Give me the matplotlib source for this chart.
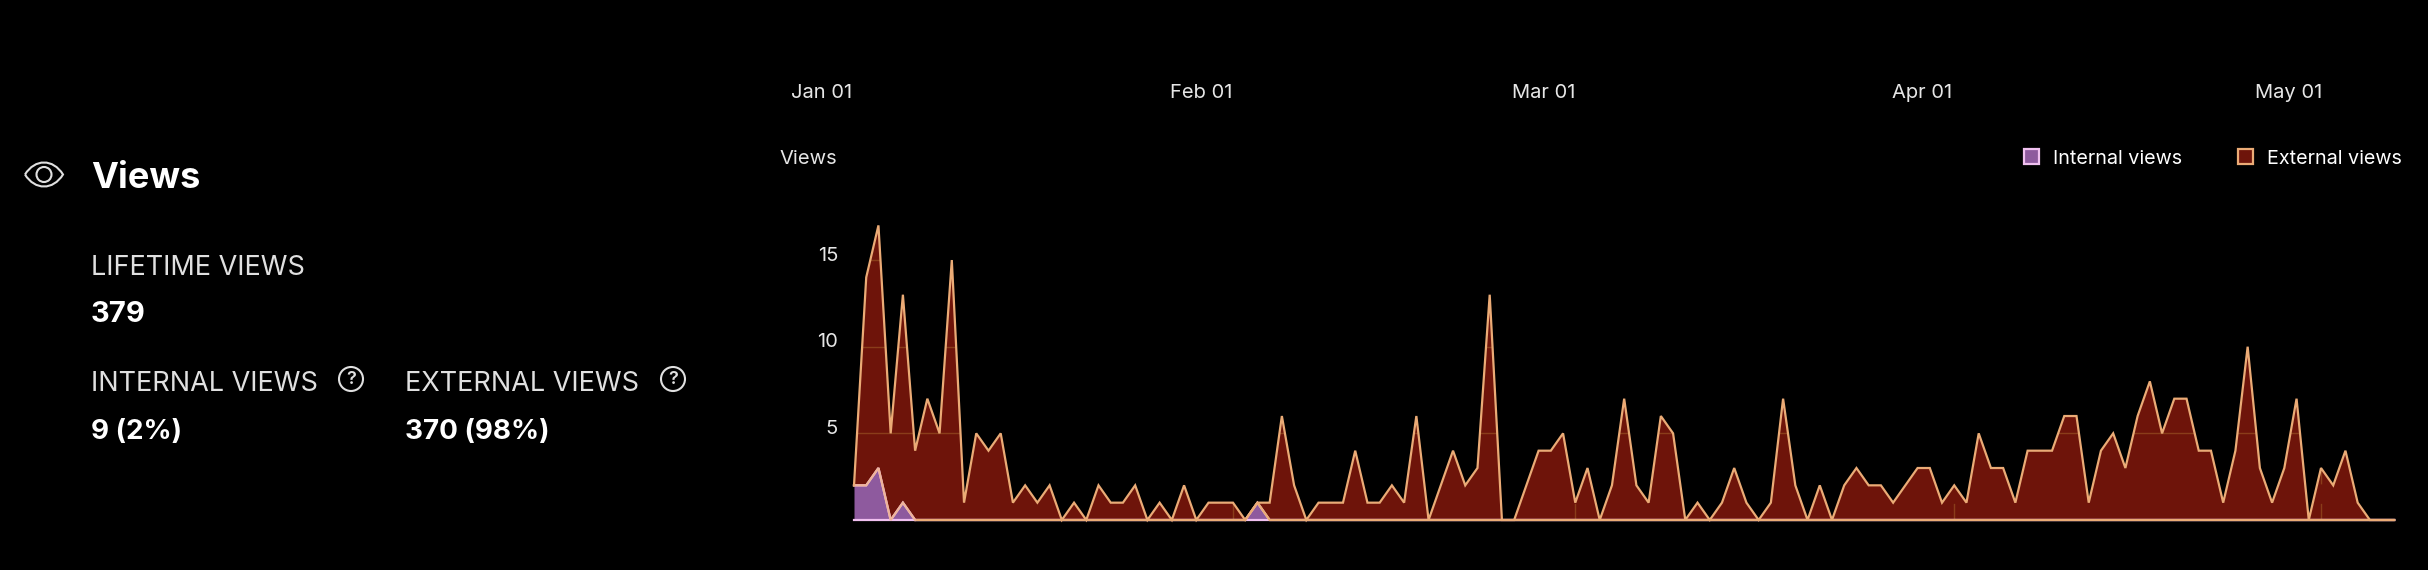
import numpy as np
import pandas as pd
import matplotlib
matplotlib.use('Agg')
import matplotlib.pyplot as plt
from matplotlib.path import Path
from matplotlib.patches import PathPatch, Circle, Rectangle
from matplotlib.transforms import ScaledTranslation

plt.rcParams['font.family'] = ['Inter', 'DejaVu Sans']

# daily views, stacked in the chart
internal_views = [2, 2, 3, 0, 1, 0] + [0] * 27 + [1] + [0] * 93
total_views = [2, 14, 17, 5, 13, 4, 7, 5, 15, 1,
               5, 4, 5, 1, 2, 1, 2, 0, 1, 0,
               2, 1, 1, 2, 0, 1, 0, 2, 0, 1,
               1, 1, 0, 1, 1, 6, 2, 0, 1, 1,
               1, 4, 1, 1, 2, 1, 6, 0, 2, 4,
               2, 3, 13, 0, 0, 2, 4, 4, 5, 1,
               3, 0, 2, 7, 2, 1, 6, 5, 0, 1,
               0, 1, 3, 1, 0, 1, 7, 2, 0, 2,
               0, 2, 3, 2, 2, 1, 2, 3, 3, 1,
               2, 1, 5, 3, 3, 1, 4, 4, 4, 6,
               6, 1, 4, 5, 3, 6, 8, 5, 7, 7,
               4, 4, 1, 4, 10, 3, 1, 3, 7, 0,
               3, 2, 4, 1, 0, 0, 0]
start_date = '2023-01-01'
month_starts = ['2023-01-01', '2023-02-01', '2023-03-01', '2023-04-01', '2023-05-01']
month_labels = ['Jan 01', 'Feb 01', 'Mar 01', 'Apr 01', 'May 01']
y_ticks = [5, 10, 15]

W, H = 2428, 570
PURPLE, PINK = '#8E5A9E', '#F0C0F0'
RED, ORANGE = '#6E140A', '#EBAB76'
GRID = '#8A3D1A'

dates = pd.date_range(start_date, periods=len(total_views))
internal = np.array(internal_views)
total = np.array(total_views)

fig = plt.figure(figsize=(W / 100, H / 100), dpi=100, facecolor='black')

# chart area, pixel layout from the reference
left, right, base = 854, 854 + 126 * 12.225, 520
unit = 17.33
ymax = 24
ax = fig.add_axes([left / W, 1 - base / H, (right - left) / W, ymax * unit / H])
ax.set_facecolor('none')
ax.set_xlim(dates[0], dates[-1])
ax.set_ylim(0, ymax)
for s in ax.spines.values():
    s.set_visible(False)

ax.fill_between(dates, 0, internal, color=PURPLE, lw=0, zorder=2)
area = ax.fill_between(dates, internal, total, color=RED, lw=0, zorder=2)
ax.plot(dates, internal, color=PINK, lw=1.6, zorder=3, clip_on=False, solid_joinstyle='miter')
ax.plot(dates, np.zeros(len(dates)), color=PINK, lw=1.6, zorder=3, clip_on=False)

# grid only shows through the filled area
clip = area.get_paths()[0]
hl = ax.hlines(y_ticks, dates[0], dates[-1], color=GRID, lw=1, zorder=2.5)
hl.set_clip_path(clip, ax.transData)
vl = ax.vlines(pd.to_datetime(month_starts), 0, ymax, color=GRID, lw=1, zorder=2.5,
               linestyles=[(2, (14, 14))])
vl.set_clip_path(clip, ax.transData)

ax.plot(dates[5:], internal[5:], color=ORANGE, lw=1.6, zorder=4, clip_on=False, solid_capstyle='butt')
ax.plot(dates[:6], internal[:6], color='#EFB49A', lw=1.6, zorder=4, clip_on=False, solid_joinstyle='miter')
ax.plot(dates, total, color=ORANGE, lw=1.6, zorder=5, clip_on=False, solid_joinstyle='miter')

ax.set_xticks(pd.to_datetime(month_starts), month_labels)
ax.set_yticks(y_ticks, [str(v) for v in y_ticks])
ax.tick_params(axis='x', length=0, bottom=False, labelbottom=False, top=False, labeltop=True,
               pad=8, labelcolor='#E6E6E6', labelsize=14.5)
ax.tick_params(axis='y', length=0, pad=11.5, labelcolor='#E6E6E6', labelsize=14.5)
for lab in ax.get_xticklabels():
    lab.set_transform(lab.get_transform() + ScaledTranslation(-32 / 100, 0, fig.dpi_scale_trans))
    lab.set_va('center')
for lab in ax.get_yticklabels():
    lab.set_transform(lab.get_transform() + ScaledTranslation(0, 6.5 / 100, fig.dpi_scale_trans))

# overlay in pixel coordinates for the stats panel and legend
ov = fig.add_axes([0, 0, 1, 1], facecolor='none')
ov.set_xlim(0, W)
ov.set_ylim(H, 0)
ov.axis('off')

ov.text(808, 159.5, 'Views', color='#E6E6E6', fontsize=14.5, ha='center', va='center')

# legend
for x, fc, ec, name in [(2024, PURPLE, PINK, 'Internal views'), (2238, RED, ORANGE, 'External views')]:
    ov.add_patch(Rectangle((x, 149), 15, 15, facecolor=fc, edgecolor=ec, lw=1.6))
    ov.text(x + 29, 159.5, name, color='white', fontsize=14.2, va='center', ha='left')

# stats panel
ov.text(91, 188, 'Views', color='white', fontsize=26, fontweight='bold', va='baseline')
ov.text(91, 275, 'LIFETIME VIEWS', color='#E0E0E0', fontsize=19.5, va='baseline')
ov.text(91, 322, '379', color='white', fontsize=21, fontweight='bold', va='baseline')
ov.text(91, 391, 'INTERNAL VIEWS', color='#E0E0E0', fontsize=19.5, va='baseline')
ov.text(405, 391, 'EXTERNAL VIEWS', color='#E0E0E0', fontsize=19.5, va='baseline')
ov.text(91, 439, '9 (2%)', color='white', fontsize=20, fontweight='bold', va='baseline')
ov.text(405, 439, '370 (98%)', color='white', fontsize=20, fontweight='bold', va='baseline')

# help icons
for cx in (351, 673):
    ov.add_patch(Circle((cx, 379), 12, fill=False, ec='#E0E0E0', lw=1.5))
    ov.text(cx, 379.5, '?', color='#E0E0E0', fontsize=13, ha='center', va='center', fontweight='semibold')

# eye icon
cx, cy = 44, 174.5
verts = [(cx - 19, cy), (cx - 9, cy - 16), (cx + 9, cy - 16), (cx + 19, cy),
         (cx + 9, cy + 16), (cx - 9, cy + 16), (cx - 19, cy)]
codes = [Path.MOVETO, Path.CURVE4, Path.CURVE4, Path.CURVE4, Path.CURVE4, Path.CURVE4, Path.CURVE4]
ov.add_patch(PathPatch(Path(verts, codes), fill=False, ec='#E0E0E0', lw=1.5))
ov.add_patch(Circle((cx, cy), 7.5, fill=False, ec='#E0E0E0', lw=1.5))

fig.savefig('out.png', dpi=100, facecolor='black')
